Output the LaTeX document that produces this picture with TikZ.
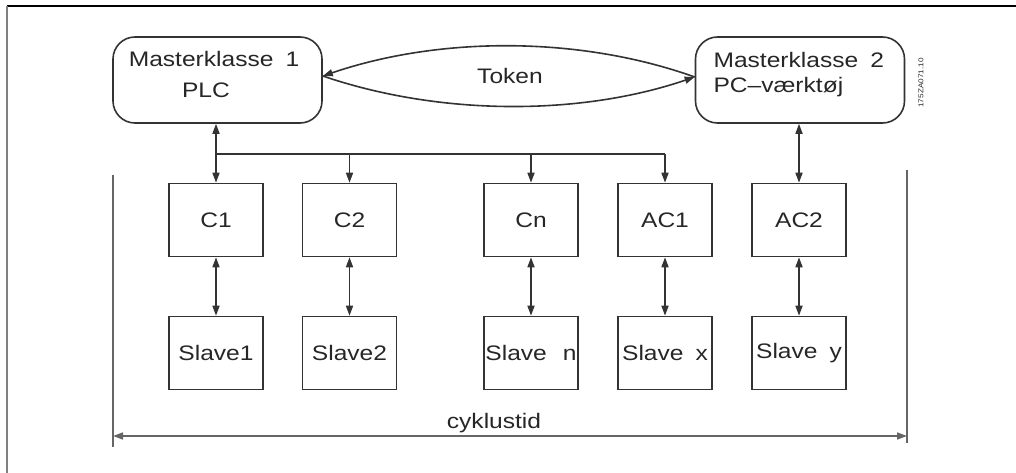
\documentclass[tikz,border=0pt]{standalone}
\usepackage{fontspec}
\setmainfont{Liberation Sans}
\newfontfamily\din[FakeStretch=1.17]{Liberation Sans}
\usetikzlibrary{arrows.meta}
\tikzset{
  every node/.style={font=\din\fontsize{21}{24}\selectfont, text=black!85},
  line/.style={draw=black!80, line width=1.6pt},
  tip/.style={-{Triangle[length=10pt,width=7pt]}},
  bitip/.style={{Triangle[length=10pt,width=7pt]}-{Triangle[length=10pt,width=7pt]}},
  master/.style={line, rounded corners=22pt, minimum width=209pt, minimum height=86pt, inner sep=0pt},
  unit/.style={line, minimum width=94pt, minimum height=73pt, inner sep=0pt},
}
\begin{document}
\begin{tikzpicture}[x=1pt, y=-1pt]
\useasboundingbox (0,0) rectangle (1016,473);
% sheet border
\draw[black, line width=1.2pt] (7,6) -- (1016,6);
\draw[black!50, line width=1.6pt] (7,6) -- (7,473);

% masters
\node[master] (M1) at (217.5,80) {};
\node[master] (M2) at (800,80) {};
\node (M1a) at (214,59) {Masterklasse\hspace{12pt}1};
\node (M1b) at (206,90) {PLC};
\node[anchor=west] (M2a) at (710,60) {Masterklasse\hspace{12pt}2};
\node[anchor=west] (M2b) at (710,87) {PC–værktøj};

% token exchange
\coordinate (tL) at ([yshift=4pt]M1.east);
\coordinate (tR) at ([yshift=3pt]M2.west);
\draw[line, tip] (tR) .. controls (580,36) and (440,36) .. (tL);
\draw[line, tip] (tL) .. controls (440,116) and (580,116) .. (tR);
\node (tok) at (510,76) {Token};

% controllers
\node[unit] (C1)  at (216,220)   {C1};
\node[unit] (C2)  at (349.5,220) {C2};
\node[unit] (Cn)  at (531,220)   {Cn};
\node[unit] (AC1) at (665,220)   {AC1};
\node[unit] (AC2) at (799,220)   {AC2};

% slaves
\node[unit] (S1) at (216,353)   {Slave1};
\node[unit] (S2) at (349.5,353) {Slave2};
\node[unit] (Sn) at (531,353)   {Slave\hspace{16pt}n};
\node[unit] (Sx) at (665,353)   {Slave\hspace{12pt}x};
\node[unit] (Sy) at (799,353)   {Slave\hspace{12pt}y};

% bus from master 1
\coordinate (bus) at (0,154);
\draw[line, bitip] (C1.north) -- (C1 |- M1.south);
\draw[line] (C1 |- bus) -- (AC1 |- bus);
\draw[line, tip] (C2 |- bus) -- (C2.north);
\draw[line, tip] (Cn |- bus) -- (Cn.north);
\draw[line, tip] (AC1 |- bus) -- (AC1.north);
\draw[line, bitip] (AC2.north) -- (AC2 |- M2.south);

% controller to slave links
\foreach \c/\s in {C1/S1, C2/S2, Cn/Sn, AC1/Sx, AC2/Sy}
  \draw[line, bitip] (\c.south) -- (\s.north);

% cycle time
\coordinate (Ltop) at (113,175);
\coordinate (Lbot) at (113,447);
\coordinate (Rtop) at (907,170);
\coordinate (Rbot) at (907,443);
\draw[line, draw=black!60] (Ltop) -- (Lbot);
\draw[line, draw=black!60] (Rtop) -- (Rbot);
\coordinate (cL) at (113,436);
\coordinate (cR) at (907,436);
\draw[line, draw=black!60, bitip] (cL) -- (cR);
\node (cyc) at (494,423) {cyklustid};

% drawing number
\node[rotate=90, font=\din\fontsize{7}{8}\selectfont] (num) at (921,83) {175ZA071.10};
\end{tikzpicture}
\end{document}
